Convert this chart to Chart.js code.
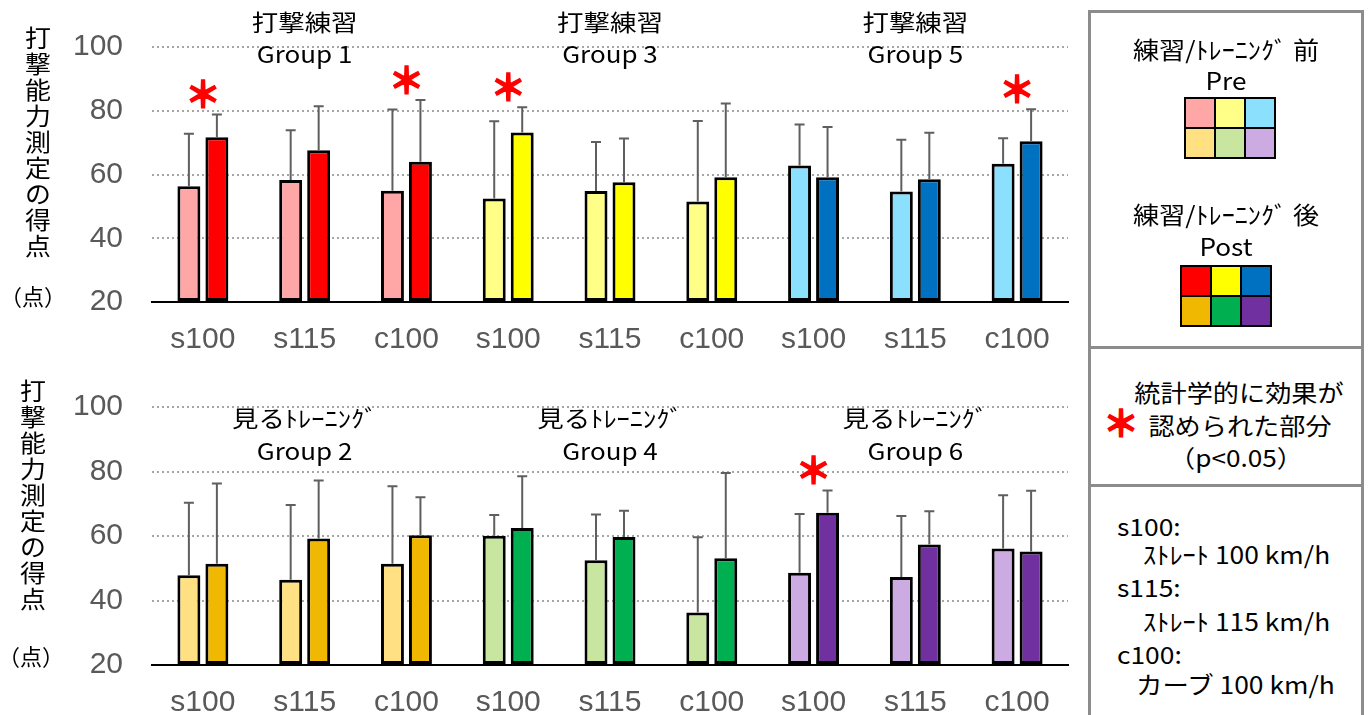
<!DOCTYPE html>
<html>
<head>
<meta charset="utf-8">
<script src="https://cdn.jsdelivr.net/npm/chart.js@4.4.1/dist/chart.umd.min.js"></script>
<style>
  body { margin: 0; background: #fff; width: 1370px; height: 715px; overflow: hidden; position: relative; font-family: "Noto Sans CJK JP", sans-serif; color: #000; }
  canvas { position: absolute; left: 0; }
  #topChart { top: 0; }
  #botChart { top: 360px; }
  .box { position: absolute; left: 1088px; width: 276px; border: 3px solid #8c8c8c; box-sizing: border-box; }
  .t { position: absolute; left: 1091px; width: 270px; text-align: center; font-size: 24px; line-height: 30px; white-space: nowrap; transform: scaleX(1.09); transform-origin: center; }
  .l { position: absolute; font-size: 24px; line-height: 30px; white-space: nowrap; transform: scaleX(1.1); transform-origin: left; }
  .grid { position: absolute; display: grid; grid-template-columns: repeat(3, 30px); grid-template-rows: repeat(2, 30px); border: 1px solid #000; }
  .grid div { border: 1px solid #000; }
  .star { position: absolute; color: #ff0000; font-size: 36px; font-weight: bold; line-height: 40px; -webkit-text-stroke: 1.5px #ff0000; }
</style>
</head>
<body>
<canvas id="topChart" width="1085" height="360"></canvas>
<canvas id="botChart" width="1085" height="355"></canvas>

<div class="box" style="top:10px;height:339px"></div>
<div class="box" style="top:346px;height:141px"></div>
<div class="box" style="top:484px;height:260px"></div>

<div class="t" style="top:34px">練習/ﾄﾚｰﾆﾝｸﾞ 前</div>
<div class="t" style="top:65px">Pre</div>
<div class="grid" id="preGrid" style="left:1184px;top:97px"></div>
<div class="t" style="top:199px">練習/ﾄﾚｰﾆﾝｸﾞ 後</div>
<div class="t" style="top:231px">Post</div>
<div class="grid" id="postGrid" style="left:1180px;top:265px"></div>

<div class="star" style="left:1103px;top:401px">＊</div>
<div class="t" style="top:377px;left:1104px">統計学的に効果が</div>
<div class="t" style="top:410px;left:1105px">認められた部分</div>
<div class="t" style="top:442px;left:1101px">（p&lt;0.05）</div>

<div class="l" style="left:1117px;top:511px">s100:</div>
<div class="l" style="left:1143px;top:539px">ｽﾄﾚｰﾄ 100 km/h</div>
<div class="l" style="left:1117px;top:572px">s115:</div>
<div class="l" style="left:1143px;top:606px">ｽﾄﾚｰﾄ 115 km/h</div>
<div class="l" style="left:1117px;top:639px">c100:</div>
<div class="l" style="left:1136px;top:669px">カーブ 100 km/h</div>

<script>
// 条件ラベル
const conditions = ['s100', 's115', 'c100'];
const xLabels = [...conditions, ...conditions, ...conditions];

// 上段: 打撃練習 (Group 1, 3, 5)
const topTitles = ['打撃練習', '打撃練習', '打撃練習'];
const topGroups = ['Group 1', 'Group 3', 'Group 5'];
const topPre = [56.3, 58.3, 54.9, 52.5, 54.8, 51.5, 62.8, 54.7, 63.4];
const topPreSD = [16.5, 15.6, 25.5, 24.2, 15.4, 25.3, 12.9, 16.2, 8.0];
const topPost = [71.7, 67.6, 64.0, 73.2, 57.6, 59.1, 59.1, 58.5, 70.4];
const topPostSD = [7.1, 13.8, 19.4, 7.9, 13.7, 23.2, 15.8, 14.6, 10.1];
const topSig = [1, 0, 1, 1, 0, 0, 0, 0, 1];
const topPreColors = ['#ffa7a7', '#ffff88', '#8be0fe'];
const topPostColors = ['#ff0000', '#ffff00', '#0070c0'];

// 下段: 見るトレーニング (Group 2, 4, 6)
const botTitles = ['見るﾄﾚｰﾆﾝｸﾞ', '見るﾄﾚｰﾆﾝｸﾞ', '見るﾄﾚｰﾆﾝｸﾞ'];
const botGroups = ['Group 2', 'Group 4', 'Group 6'];
const botPre = [47.8, 46.4, 51.4, 60.1, 52.5, 36.3, 48.6, 47.3, 56.1];
const botPreSD = [22.5, 23.2, 24.0, 6.4, 14.2, 23.3, 18.2, 18.9, 16.5];
const botPost = [51.4, 59.2, 60.2, 62.5, 59.7, 53.1, 67.2, 57.4, 55.2];
const botPostSD = [24.9, 18.0, 11.8, 16.0, 8.1, 26.4, 6.9, 10.3, 18.8];
const botSig = [0, 0, 0, 0, 0, 0, 1, 0, 0];
const botPreColors = ['#ffe083', '#c8e6a0', '#ccaae2'];
const botPostColors = ['#f0b800', '#00b050', '#7030a0'];

const yTicks = [20, 40, 60, 80, 100];
const axisTitle = '打撃能力測定の得点';
const axisUnit = '（点）';

const expand = colors => colors.flatMap(c => [c, c, c]);

// 凡例の色見本
function fillGrid(id, a, b) {
    const el = document.getElementById(id);
    [...a, ...b].forEach(c => {
        const d = document.createElement('div');
        d.style.background = c;
        el.appendChild(d);
    });
}
fillGrid('preGrid', topPreColors, botPreColors);
fillGrid('postGrid', topPostColors, botPostColors);

// 横に少し広げた文字
function wideText(ctx, text, x, y, sx) {
    ctx.save();
    ctx.translate(x, y);
    ctx.scale(sx, 1);
    ctx.fillText(text, 0, 0);
    ctx.restore();
}

// 誤差棒 (上側のみ)
const errorBars = {
    id: 'errorBars',
    afterDatasetsDraw(chart) {
        const { ctx, scales: { y } } = chart;
        ctx.save();
        ctx.strokeStyle = '#5f5f5f';
        ctx.lineWidth = 2;
        chart.data.datasets.forEach((ds, i) => {
            chart.getDatasetMeta(i).data.forEach((bar, j) => {
                const top = y.getPixelForValue(ds.data[j] + ds.sd[j]);
                ctx.beginPath();
                ctx.moveTo(bar.x, bar.y);
                ctx.lineTo(bar.x, top);
                ctx.moveTo(bar.x - 5, top);
                ctx.lineTo(bar.x + 5, top);
                ctx.stroke();
            });
        });
        ctx.restore();
    }
};

// グループ名、有意マーク、縦軸タイトル
function makeExtras(cfg) {
    return {
        id: 'extras',
        afterDraw(chart) {
            const { ctx, scales: { x, y } } = chart;
            ctx.save();
            ctx.textAlign = 'center';
            ctx.textBaseline = 'middle';
            ctx.fillStyle = '#000';
            ctx.font = '23px "Noto Sans CJK JP"';
            cfg.titles.forEach((t, g) => {
                const cx = x.getPixelForValue(g * 3 + 1);
                wideText(ctx, t, cx, cfg.titleY[0], 1.15);
                wideText(ctx, cfg.groups[g], cx, cfg.titleY[1], 1.13);
            });

            ctx.fillStyle = '#ff0000';
            ctx.strokeStyle = '#ff0000';
            ctx.lineWidth = 1.5;
            ctx.font = 'bold 36px "Noto Sans CJK JP"';
            cfg.sig.forEach((s, i) => {
                if (!s) return;
                const top = Math.min(
                    y.getPixelForValue(cfg.pre[i] + cfg.preSD[i]),
                    y.getPixelForValue(cfg.post[i] + cfg.postSD[i])
                );
                const cx = x.getPixelForValue(i);
                ctx.fillText('＊', cx, top - 20);
                ctx.strokeText('＊', cx, top - 20);
            });

            ctx.fillStyle = '#000';
            ctx.font = '24px "Noto Sans CJK JP"';
            [...axisTitle].forEach((ch, k) => {
                wideText(ctx, ch, cfg.axisX, cfg.axisY + k * 26, 1.08);
            });
            ctx.font = '22px "Noto Sans CJK JP"';
            ctx.fillText(axisUnit, cfg.unitX, 297);
            ctx.restore();
        }
    };
}

function makeChart(id, cfg) {
    const tickFont = { family: 'Liberation Sans', size: 30 };
    return new Chart(document.getElementById(id), {
        type: 'bar',
        data: {
            labels: xLabels,
            datasets: [
                {
                    label: 'Pre', data: cfg.pre, sd: cfg.preSD,
                    backgroundColor: expand(cfg.preColors),
                    borderColor: '#000000', borderWidth: 3, borderSkipped: false, base: 20,
                    categoryPercentage: 0.55, barPercentage: 0.82
                },
                {
                    label: 'Post', data: cfg.post, sd: cfg.postSD,
                    backgroundColor: expand(cfg.postColors),
                    borderColor: '#000000', borderWidth: 3, borderSkipped: false, base: 20,
                    categoryPercentage: 0.55, barPercentage: 0.82
                }
            ]
        },
        options: {
            responsive: false,
            animation: false,
            layout: { padding: { top: cfg.top, right: 17, left: 0, bottom: 0 } },
            plugins: { legend: { display: false }, tooltip: { enabled: false } },
            scales: {
                x: {
                    grid: { display: false, drawTicks: false },
                    border: { display: true, color: '#000', width: 2 },
                    ticks: { color: '#595959', font: tickFont, padding: 20 },
                    afterFit(s) { s.height = cfg.xh; }
                },
                y: {
                    min: 20, max: 100,
                    afterBuildTicks(s) { s.ticks = yTicks.map(v => ({ value: v })); },
                    ticks: { color: '#595959', font: tickFont, padding: 29 },
                    grid: {
                        color: c => c.tick.value === 20 ? 'rgba(0,0,0,0)' : '#a6a6a6',
                        lineWidth: 2, drawTicks: false
                    },
                    border: { display: false, dash: [2, 3] },
                    afterFit(s) { s.width = 152; }
                }
            }
        },
        plugins: [errorBars, makeExtras(cfg)]
    });
}

makeChart('topChart', {
    pre: topPre, preSD: topPreSD, post: topPost, postSD: topPostSD, sig: topSig,
    preColors: topPreColors, postColors: topPostColors,
    titles: topTitles, groups: topGroups, titleY: [22, 54],
    top: 41, xh: 58, axisX: 38, axisY: 38, unitX: 33
});

makeChart('botChart', {
    pre: botPre, preSD: botPreSD, post: botPost, postSD: botPostSD, sig: botSig,
    preColors: botPreColors, postColors: botPostColors,
    titles: botTitles, groups: botGroups, titleY: [58, 91],
    top: 44, xh: 50, axisX: 33, axisY: 31, unitX: 31
});
</script>
</body>
</html>
